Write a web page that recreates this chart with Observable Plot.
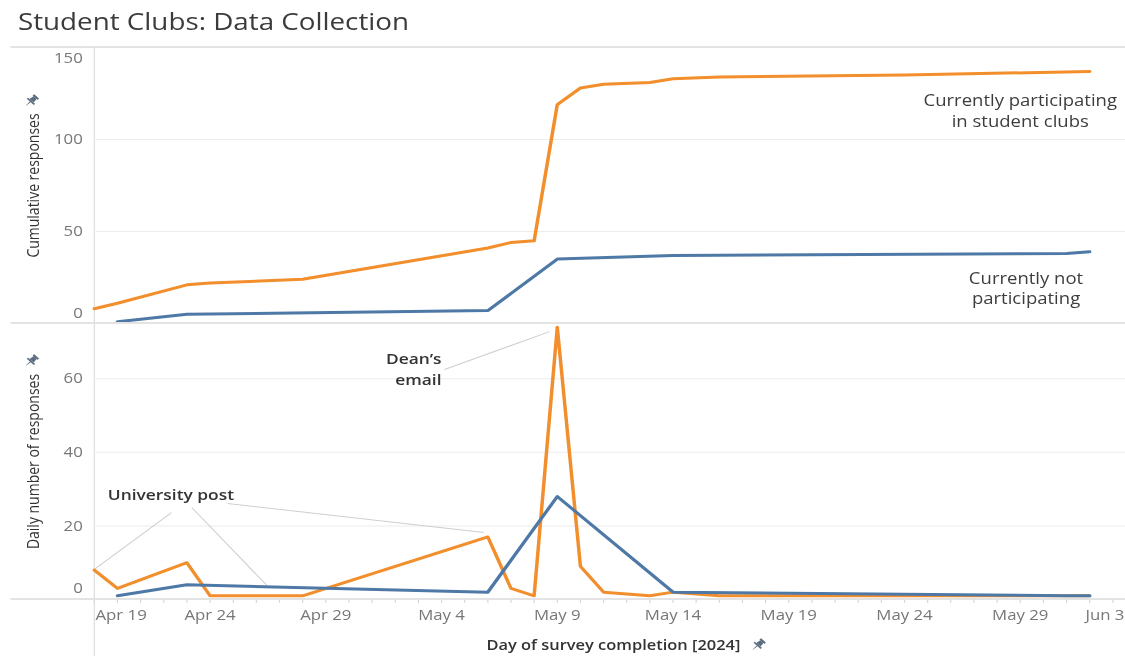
<!DOCTYPE html>
<html>
<head>
<meta charset="utf-8">
<script src="https://cdn.jsdelivr.net/npm/d3@7"></script>
<script src="https://cdn.jsdelivr.net/npm/@observablehq/plot@0.6"></script>
<style>
  html, body { margin: 0; padding: 0; background: #fff; }
  #viewport { position: relative; width: 1125px; height: 656px; overflow: hidden; background: #fff; }
  #stage { position: absolute; left: 0; top: 0; width: 972px; height: 656px;
           transform: scaleX(1.1574); transform-origin: 0 0;
           font-family: "Open Sans", sans-serif; }
  .abs { position: absolute; }
  .hline { position: absolute; height: 2px; background: #e3e3e3; }
  .vline { position: absolute; width: 1px; background: #dcdcdc; }
  #title { left: 15.5px; top: 9px; font-size: 24px; line-height: 24px; color: #3b3b3b; white-space: nowrap; }
  #xtitle { left: 0; width: 1060px; top: 635px; line-height: 20px; text-align: center;
            font-size: 14.2px; font-weight: 600; color: #333; white-space: nowrap; }
  #xtitle .t { position: relative; }
  #pin3 { position: absolute; right: -22px; top: 2px; }
  .chart { position: absolute; left: 0; width: 1001px; }
  .chart svg { max-width: none !important; display: block; }
</style>
</head>
<body>
<div id="viewport">
  <div id="stage">
    <div id="title" class="abs">Student Clubs: Data Collection</div>
    <div class="hline" style="left:9px; width:1000px; top:46px;"></div>
    <div class="vline" style="left:80.5px; top:47px; height:609px;"></div>
    <div id="topChart" class="chart" style="top:40px;"></div>
    <div id="bottomChart" class="chart" style="top:318px;"></div>
    <div class="hline" style="left:9px; width:1000px; top:322px;"></div>
    <div class="hline" style="left:9px; width:1000px; top:598px;"></div>
    <div id="pin1" class="abs" style="left:20px; top:91px;"></div>
    <div id="pin2" class="abs" style="left:20px; top:351px;"></div>
    <div id="xtitle" class="abs"><span class="t">Day of survey completion [2024]<span id="pin3"></span></span></div>
  </div>
</div>
<script>
// ---------------- DATA ----------------
const participatingDates = ["2024-04-19","2024-04-20","2024-04-23","2024-04-24","2024-04-28",
  "2024-05-06","2024-05-07","2024-05-08","2024-05-09","2024-05-10","2024-05-11",
  "2024-05-13","2024-05-14","2024-05-16","2024-05-24","2024-06-01"];
const participatingDaily      = [8, 3, 10, 1, 1, 17, 3, 1, 74, 9, 2, 1, 2, 1, 1, 1];
const participatingCumulative = [8, 11, 21, 22, 24, 41, 44, 45, 119, 128, 130, 131, 133, 134, 135, 137];

const notParticipatingDates = ["2024-04-20","2024-04-23","2024-05-06","2024-05-09","2024-05-14","2024-05-31","2024-06-01"];
const notParticipatingDaily      = [1, 4, 2, 28, 2, 1, 1];
const notParticipatingCumulative = [1, 5, 7, 35, 37, 38, 39];

const cumulativeTicks = [0, 50, 100, 150];
const dailyTicks = [0, 20, 40, 60];
const dateTicks = ["2024-04-19","2024-04-24","2024-04-29","2024-05-04","2024-05-09",
  "2024-05-14","2024-05-19","2024-05-24","2024-05-29","2024-06-03"];
const xDomainDates = ["2024-04-19", "2024-06-04"];
const cumulativeDomain = [0, 150];
const dailyDomain = [0, 75];

const seriesLabels = [
  {date: "2024-05-29T00:00Z", value: 116, text: "Currently participating\nin student clubs"},
  {date: "2024-05-29T06:00Z", value: 19.6, text: "Currently not\nparticipating"}
];
const eventNotes = [
  {date: "2024-05-04T00:00Z", value: 63, text: "Dean’s\nemail", anchor: "end"},
  {date: "2024-04-19T14:00Z", value: 28.8, text: "University post", anchor: "start"}
];
const leaderLines = [
  {x1: "2024-05-04T03:00Z", y1: 62.5, x2: "2024-05-08T16:00Z", y2: 72.8},
  {x1: "2024-04-22T08:00Z", y1: 23.6, x2: "2024-04-19T00:00Z", y2: 8.2},
  {x1: "2024-04-23T05:00Z", y1: 25.0, x2: "2024-04-26T11:00Z", y2: 3.8},
  {x1: "2024-04-24T18:00Z", y1: 26.1, x2: "2024-05-05T20:00Z", y2: 18.2}
];

// ---------------- BUILD ----------------
const ORANGE = "#f28e2b", BLUE = "#4e79a7";
const toRows = (dates, values) => dates.map((d, i) => ({date: new Date(d), value: values[i]}));
const partDaily = toRows(participatingDates, participatingDaily);
const partCum = toRows(participatingDates, participatingCumulative);
const notDaily = toRows(notParticipatingDates, notParticipatingDaily);
const notCum = toRows(notParticipatingDates, notParticipatingCumulative);
const xDomain = xDomainDates.map(d => new Date(d));
const tickDates = dateTicks.map(d => new Date(d));
const fmt = d3.utcFormat("%b %-d");
const labels = seriesLabels.map(d => ({...d, date: new Date(d.date)}));
const notes = eventNotes.map(d => ({...d, date: new Date(d.date)}));
const leaders = leaderLines.map(d => ({...d, x1: new Date(d.x1), x2: new Date(d.x2)}));

const common = {
  width: 1001, marginLeft: 81, marginRight: 0,
  style: {fontFamily: '"Open Sans", sans-serif', fontSize: "14.5px", background: "transparent", overflow: "visible", maxWidth: "none"},
  x: {type: "utc", domain: xDomain, axis: null}
};
const axisOpts = {tickSize: 0, tickPadding: 10, fill: "#777", label: null};
const yTitle = {frameAnchor: "left", rotate: -90, dx: -52, fill: "#333", fontSize: 14, textAnchor: "middle"};
const noteOpts = {x: "date", y: "value", text: "text", fontSize: 15, fontWeight: 600,
  fill: "#333", lineAnchor: "middle", lineHeight: 1.4};

const topPlot = Plot.plot({
  ...common, height: 284, marginTop: 7, marginBottom: 1,
  y: {domain: cumulativeDomain, axis: null},
  marks: [
    Plot.gridY(cumulativeTicks.filter(t => t > 0 && t < 150), {stroke: "#ececec", strokeOpacity: 1}),
    Plot.axisY(cumulativeTicks.filter(t => t > 0 && t < 150), axisOpts),
    Plot.axisY(cumulativeTicks.filter(t => t === 150), {...axisOpts, dy: 11}),
    Plot.axisY(cumulativeTicks.filter(t => t === 0), {...axisOpts, dy: -10}),
    Plot.text(["Cumulative responses"], yTitle),
    Plot.line(partCum, {x: "date", y: "value", stroke: ORANGE, strokeWidth: 3, strokeLinejoin: "round"}),
    Plot.line(notCum, {x: "date", y: "value", stroke: BLUE, strokeWidth: 3, strokeLinejoin: "round"}),
    Plot.text(labels, {x: "date", y: "value", text: "text", fontSize: 16, fill: "#3d3d3d",
      textAnchor: "middle", lineAnchor: "middle", lineHeight: 1.3})
  ]
});
document.getElementById("topChart").append(topPlot);

const bottomPlot = Plot.plot({
  ...common, height: 338, marginTop: 5, marginBottom: 57,
  y: {domain: dailyDomain, axis: null},
  marks: [
    Plot.gridY(dailyTicks.filter(t => t > 0), {stroke: "#ececec", strokeOpacity: 1}),
    Plot.axisY(dailyTicks.filter(t => t > 0), axisOpts),
    Plot.axisY(dailyTicks.filter(t => t === 0), {...axisOpts, dy: -11}),
    Plot.axisX(d3.utcDay.range(xDomain[0], xDomain[1]), {tickSize: 4, fill: "none", stroke: "#d6d6d6", label: null}),
    Plot.axisX(tickDates.slice(0, 1), {...axisOpts, tickFormat: fmt, textAnchor: "start", dx: 1}),
    Plot.axisX(tickDates.slice(1, -1), {...axisOpts, tickFormat: fmt}),
    Plot.axisX(tickDates.slice(-1), {...axisOpts, tickFormat: fmt, textAnchor: "end", dx: -10}),
    Plot.text(["Daily number of responses"], yTitle),
    Plot.link(leaders, {x1: "x1", y1: "y1", x2: "x2", y2: "y2", stroke: "#cfcfcf", strokeWidth: 1}),
    Plot.line(partDaily, {x: "date", y: "value", stroke: ORANGE, strokeWidth: 3, strokeLinejoin: "round"}),
    Plot.line(notDaily, {x: "date", y: "value", stroke: BLUE, strokeWidth: 3, strokeLinejoin: "round"}),
    Plot.text(notes.filter(d => d.anchor === "end"), {...noteOpts, textAnchor: "end"}),
    Plot.text(notes.filter(d => d.anchor === "start"), {...noteOpts, textAnchor: "start"})
  ]
});
document.getElementById("bottomChart").append(bottomPlot);

// pushpin icons
function pin() {
  return `<svg width="14" height="14" viewBox="0 0 16 16"><g transform="rotate(45 8 8)" fill="#5d6d80">
    <rect x="4.5" y="0.5" width="7" height="2.2" rx="0.6"/>
    <path d="M5.8 2.7 H10.2 L11 7.6 H5 Z"/>
    <rect x="3" y="7.6" width="10" height="1.8" rx="0.5"/>
    <path d="M7.4 9.4 H8.6 L8.1 15.5 H7.9 Z"/></g></svg>`;
}
document.getElementById("pin1").innerHTML = pin();
document.getElementById("pin2").innerHTML = pin();
document.getElementById("pin3").innerHTML = pin();
</script>
</body>
</html>
